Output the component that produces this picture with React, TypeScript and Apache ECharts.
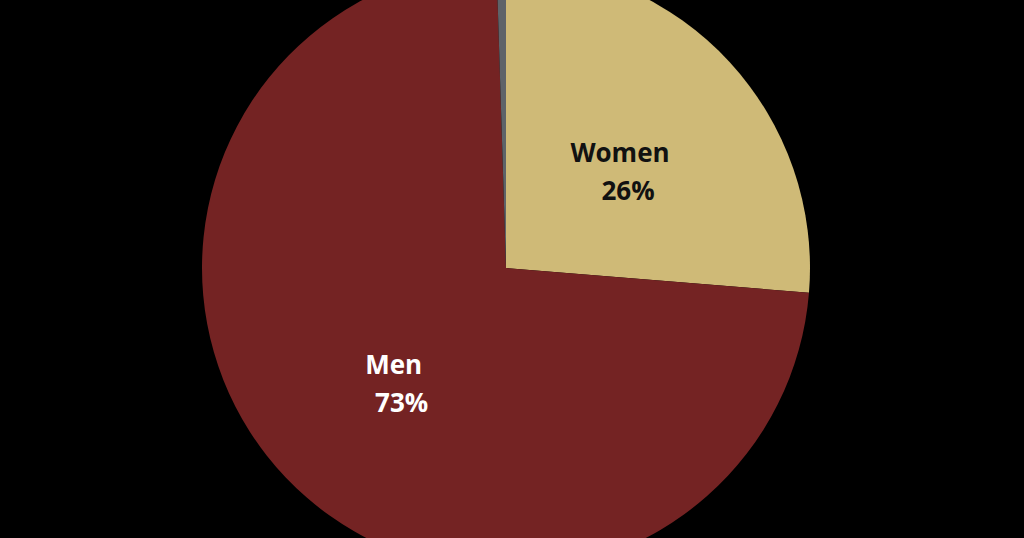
import { useEffect, useRef } from 'react';
import * as echarts from 'echarts';

// clockwise from 12 o'clock
const categories = ['Women', 'Men', 'Other'];
const values = [26.3, 73.2, 0.5];
const labels = ['26%', '73%', ''];
const colors = ['#CFBA77', '#742323', '#5E6369'];
const labelColors = ['#111111', '#FFFFFF', '#FFFFFF'];

const App: React.FC = () => {
  const chartRef = useRef<HTMLDivElement>(null);

  useEffect(() => {
    document.body.style.margin = '0';
    document.body.style.background = '#000';
    if (!chartRef.current) return;
    const chart = echarts.init(chartRef.current, undefined, { renderer: 'svg' });

    chart.setOption({
      animation: false,
      backgroundColor: '#000000',
      series: [
        {
          type: 'pie',
          center: [506, 268],
          radius: [0, 304],
          startAngle: 90,
          clockwise: true,
          itemStyle: { borderWidth: 0 },
          label: {
            show: true,
            position: 'inside',
            offset: [0, 8],
            fontFamily: 'Open Sans',
            fontWeight: 'bold',
            fontSize: 26,
            lineHeight: 38,
            formatter: (p: any) => (labels[p.dataIndex] ? `${p.name}\n{pct|${labels[p.dataIndex]}}` : ''),
          },
          labelLine: { show: false },
          data: categories.map((name, i) => ({
            name,
            value: values[i],
            itemStyle: { color: colors[i] },
            label: {
              color: labelColors[i],
              rich: {
                pct: {
                  color: labelColors[i],
                  fontFamily: 'Open Sans',
                  fontWeight: 'bold',
                  fontSize: 26,
                  lineHeight: 38,
                  padding: [0, 0, 0, 16],
                },
              },
            },
          })),
        },
      ],
    });

    return () => chart.dispose();
  }, []);

  return <div ref={chartRef} style={{ width: 1024, height: 538 }} />;
};

export default App;
